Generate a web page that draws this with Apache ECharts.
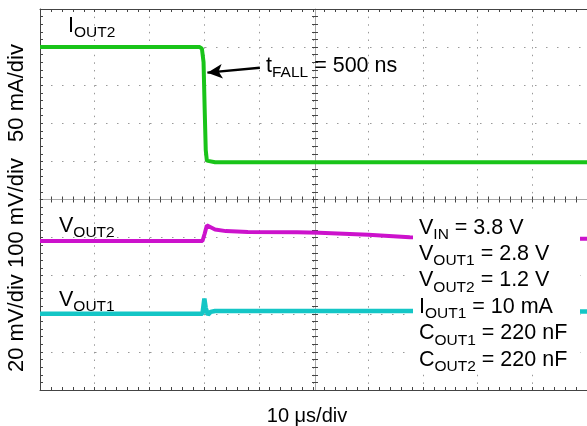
<!DOCTYPE html>
<html>
<head>
<meta charset="utf-8">
<script src="https://cdn.jsdelivr.net/npm/echarts@6/dist/echarts.min.js"></script>
<style>
  html, body { margin: 0; padding: 0; background: #fff; }
  #chart { width: 587px; height: 426px; }
</style>
</head>
<body>
<div id="chart"></div>
<script>
// time in µs (10 µs/div), I_OUT2 falling edge at t = 0
var ioutTime = [-30, -0.8, -0.4, -0.1, 0.1, 0.3, 0.5, 0.8, 2, 70];
var ioutMa = [150, 150, 148, 130, 70, 15, 1, 0, -1, -1];          // 50 mA/div

var vout2Time = [-30, -0.3, 0.1, 0.5, 1.2, 2, 4, 8, 17, 21, 30, 37.6, 68, 70];
var vout2Mv = [-9, -9, 10, 32, 27, 21, 17, 14.5, 14, 13, 7.5, 1, -3, -3];   // 100 mV/div

var vout1Time = [-30, -0.3, 0.05, 0.3, 0.7, 1.2, 2, 37.6, 68, 70];
var vout1Mv = [0, 0, 8, 3, -0.5, 1, 1.5, 1.5, 1.2, 1.2];          // 20 mV/div

function pairs(t, v) {
  return t.map(function (x, i) { return [x, v[i]]; });
}

var FONT = '"Liberation Sans", Arial, sans-serif';
var rich = {
  m: { fontSize: 21.5, fontFamily: FONT, lineHeight: 26.4, color: '#000' },
  s: { fontSize: 15.5, fontFamily: FONT, lineHeight: 12.4, padding: [14, 0, 0, 0], color: '#000' }
};

var dark = '#444';
var centre = '#aaa';

function border(pos, splitLine, dash) {
  return {
    type: 'value', position: pos,
    axisLine: { onZero: false, lineStyle: { color: dark, width: 1 } },
    axisTick: { inside: true, length: 3, lineStyle: { color: dark } },
    minorTick: { show: true, splitNumber: 5, length: 3, lineStyle: { color: dark } },
    axisLabel: { show: false },
    splitLine: { show: splitLine, lineStyle: { color: '#999', width: 1, type: dash } }
  };
}
function centreAxis(pos, offset, inside, line) {
  return {
    type: 'value', position: pos, offset: offset,
    axisLine: { show: line, onZero: false, lineStyle: { color: centre, width: 1 } },
    axisTick: { inside: inside, length: 3, lineStyle: { color: dark } },
    minorTick: { show: true, splitNumber: 5, length: 3, lineStyle: { color: dark } },
    axisLabel: { show: false },
    splitLine: { show: false }
  };
}
function timeAxis(a) {
  a.min = -30; a.max = 70; a.interval = 10;
  return a;
}
function curAxis(a) {
  a.min = -300; a.max = 200; a.interval = 50;
  return a;
}

var chart = echarts.init(document.getElementById('chart'));
chart.setOption({
  animation: false,
  backgroundColor: '#fff',
  grid: { left: 40, top: 9, width: 550, height: 381 },
  xAxis: [
    timeAxis(border('bottom', true, [1.5, 6.12])),
    timeAxis(border('top', false)),
    timeAxis(centreAxis('bottom', -190.5, true, true)),
    timeAxis(centreAxis('bottom', -190.5, false, false))
  ],
  yAxis: [
    curAxis(border('left', true, [1.5, 9.5])),
    { type: 'value', min: -400, max: 600, show: false },
    { type: 'value', min: -40, max: 160, show: false },
    curAxis(centreAxis('left', -275, true, true)),
    curAxis(centreAxis('left', -275, false, false))
  ],
  series: [
    {
      name: 'IOUT2', type: 'line', xAxisIndex: 0, yAxisIndex: 0,
      data: pairs(ioutTime, ioutMa), symbol: 'none',
      lineStyle: { color: '#19c419', width: 4 },
      markLine: {
        silent: true, animation: false,
        symbol: ['none', 'arrow'], symbolSize: [11, 15],
        label: { show: false },
        lineStyle: { color: '#000', width: 2.5, type: 'solid' },
        data: [[{ coord: [10.2, 123] }, { coord: [0.6, 116.5] }]]
      }
    },
    {
      name: 'VOUT2', type: 'line', xAxisIndex: 0, yAxisIndex: 1,
      data: pairs(vout2Time, vout2Mv), symbol: 'none',
      lineStyle: { color: '#cc12cc', width: 4 }
    },
    {
      name: 'VOUT1', type: 'line', xAxisIndex: 0, yAxisIndex: 2,
      data: pairs(vout1Time, vout1Mv), symbol: 'none',
      lineStyle: { color: '#14c6c6', width: 4.5 }
    }
  ],
  graphic: [
    { type: 'rect', z: 50, shape: { x: 413, y: 213, width: 167, height: 159 }, style: { fill: '#fff' } },
    { type: 'text', z: 60, x: 68, y: 12.5, style: { text: '{m|I}{s|OUT2}', rich: rich } },
    { type: 'text', z: 60, x: 266, y: 52.5, style: { text: '{m|t}{s|FALL}{m| = 500 ns}', rich: rich } },
    { type: 'text', z: 60, x: 59, y: 212.5, style: { text: '{m|V}{s|OUT2}', rich: rich } },
    { type: 'text', z: 60, x: 59, y: 286.5, style: { text: '{m|V}{s|OUT1}', rich: rich } },
    {
      type: 'text', z: 60, x: 419, y: 214.5,
      style: {
        text: '{m|V}{s|IN}{m| = 3.8 V}\n' +
              '{m|V}{s|OUT1}{m| = 2.8 V}\n' +
              '{m|V}{s|OUT2}{m| = 1.2 V}\n' +
              '{m|I}{s|OUT1}{m| = 10 mA}\n' +
              '{m|C}{s|OUT1}{m| = 220 nF}\n' +
              '{m|C}{s|OUT2}{m| = 220 nF}',
        rich: rich
      }
    },
    {
      type: 'text', z: 60, x: 17, y: 93, rotation: Math.PI / 2,
      style: { text: '50 mA/div', font: '22px ' + FONT, fill: '#000', textAlign: 'center', textVerticalAlign: 'middle' }
    },
    {
      type: 'text', z: 60, x: 17, y: 265, rotation: Math.PI / 2,
      style: { text: '20 mV/div 100 mV/div', font: '22px ' + FONT, fill: '#000', textAlign: 'center', textVerticalAlign: 'middle' }
    },
    {
      type: 'text', z: 60, x: 307, y: 416,
      style: { text: '10 μs/div', font: '20px ' + FONT, fill: '#000', textAlign: 'center', textVerticalAlign: 'middle' }
    }
  ]
});
</script>
</body>
</html>
